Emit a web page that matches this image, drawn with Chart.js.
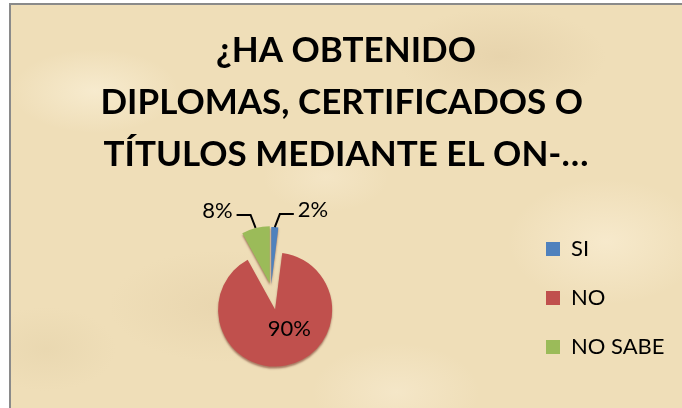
<!DOCTYPE html>
<html><head><meta charset="utf-8">
<script src="https://cdn.jsdelivr.net/npm/chart.js@4.4.1/dist/chart.umd.min.js"></script>
<style>
html,body{margin:0;padding:0;background:#fff;width:682px;height:408px;overflow:hidden}
#frame{position:absolute;left:9px;top:3px;width:700px;height:430px;border-left:2px solid #8a8a8a;border-top:2px solid #8a8a8a;
background-color:#efdeb8;
background-image:
 radial-gradient(ellipse 120px 60px at 12% 20%, rgba(250,240,215,0.7), rgba(250,240,215,0) 70%),
 radial-gradient(ellipse 150px 70px at 70% 12%, rgba(226,205,165,0.6), rgba(226,205,165,0) 70%),
 radial-gradient(ellipse 140px 90px at 85% 55%, rgba(250,238,212,0.7), rgba(250,238,212,0) 70%),
 radial-gradient(ellipse 160px 80px at 30% 70%, rgba(228,208,168,0.55), rgba(228,208,168,0) 70%),
 radial-gradient(ellipse 120px 70px at 55% 90%, rgba(248,236,210,0.6), rgba(248,236,210,0) 70%),
 radial-gradient(ellipse 100px 60px at 5% 80%, rgba(230,212,172,0.6), rgba(230,212,172,0) 70%),
 radial-gradient(ellipse 90px 50px at 45% 40%, rgba(247,234,206,0.6), rgba(247,234,206,0) 70%);}
#wrap{position:absolute;left:0;top:0;width:682px;height:408px}
</style></head><body>
<div id="frame"></div>
<div id="wrap"><canvas id="c" width="682" height="408"></canvas></div>
<script>
const categories = ['SI', 'NO', 'NO SABE'];
const values = [2, 90, 8];
const percentLabels = ['2%', '90%', '8%'];
const titleLines = ['¿HA OBTENIDO', 'DIPLOMAS, CERTIFICADOS O ', 'TÍTULOS MEDIANTE EL ON-…'];
const sliceColors = ['#4F81BD', '#C0504D', '#9BBB59'];
const explode = [4, 22, 5];

// draws each slice moved out along its middle angle (exploded pie), with a soft 3D-like shadow
const explodePlugin = {
  id: 'explode',
  beforeDatasetDraw(chart, args) {
    const ctx = chart.ctx;
    ctx.save();
    ctx.shadowColor = 'rgba(110,40,30,0.55)';
    ctx.shadowBlur = 2;
    ctx.shadowOffsetY = 2;
    args.meta.data.forEach((arc, i) => {
      const mid = (arc.startAngle + arc.endAngle) / 2;
      ctx.save();
      ctx.translate(Math.cos(mid) * explode[i], Math.sin(mid) * explode[i]);
      arc.draw(ctx);
      ctx.restore();
    });
    ctx.restore();
    return false;
  }
};

const labelPlugin = {
  id: 'pctLabels',
  afterDatasetsDraw(chart) {
    const ctx = chart.ctx;
    const meta = chart.getDatasetMeta(0);
    const total = values.reduce((a, b) => a + b, 0);
    ctx.save();
    ctx.font = '22px Lato';
    ctx.fillStyle = '#000';
    ctx.strokeStyle = '#000';
    ctx.lineWidth = 2;
    meta.data.forEach((arc, i) => {
      const p = arc.getProps(['x', 'y', 'startAngle', 'endAngle', 'outerRadius'], true);
      const mid = (p.startAngle + p.endAngle) / 2;
      const cx = p.x + Math.cos(mid) * explode[i], cy = p.y + Math.sin(mid) * explode[i];
      const r = p.outerRadius;
      if (values[i] / total > 0.2) {
        ctx.textAlign = 'center';
        ctx.textBaseline = 'middle';
        ctx.fillText(percentLabels[i], cx + Math.cos(mid) * r * 0.4 + 10, cy + Math.sin(mid) * r * 0.4 - 3);
      } else {
        const side = Math.cos(mid) >= 0 ? 1 : -1;
        const x0 = cx + Math.cos(mid) * r, y0 = cy + Math.sin(mid) * r;
        const x1 = x0 + side * 5, y1 = y0 - 13;
        const x2 = x1 + side * 14, y2 = y1;
        ctx.beginPath();
        ctx.moveTo(x0, y0); ctx.lineTo(x1, y1); ctx.lineTo(x2, y2);
        ctx.stroke();
        ctx.textAlign = side > 0 ? 'left' : 'right';
        ctx.textBaseline = 'middle';
        ctx.fillText(percentLabels[i], x2 + side * 4, y2 - 4);
      }
    });
    ctx.restore();
  }
};

new Chart(document.getElementById('c'), {
  type: 'pie',
  data: {
    labels: categories,
    datasets: [{
      data: values,
      backgroundColor: sliceColors,
      borderWidth: 0,
      radius: 57
    }]
  },
  options: {
    responsive: false,
    animation: false,
    devicePixelRatio: 1,
    layout: { padding: { left: 23, right: 13, top: 0, bottom: 13 } },
    plugins: {
      title: {
        display: true,
        text: titleLines,
        color: '#000',
        font: { family: 'Lato', size: 35, weight: 'bold', lineHeight: 52 / 35 },
        padding: { top: 25, bottom: 0 }
      },
      legend: {
        position: 'right',
        fullSize: false,
        maxWidth: 150,
        title: { display: true, text: ' ', font: { size: 10 }, padding: 4 },
        labels: {
          color: '#000',
          font: { family: 'Lato', size: 22 },
          boxWidth: 14,
          boxHeight: 14,
          padding: 27
        }
      },
      tooltip: { enabled: false }
    }
  },
  plugins: [explodePlugin, labelPlugin]
});
</script>
</body></html>
